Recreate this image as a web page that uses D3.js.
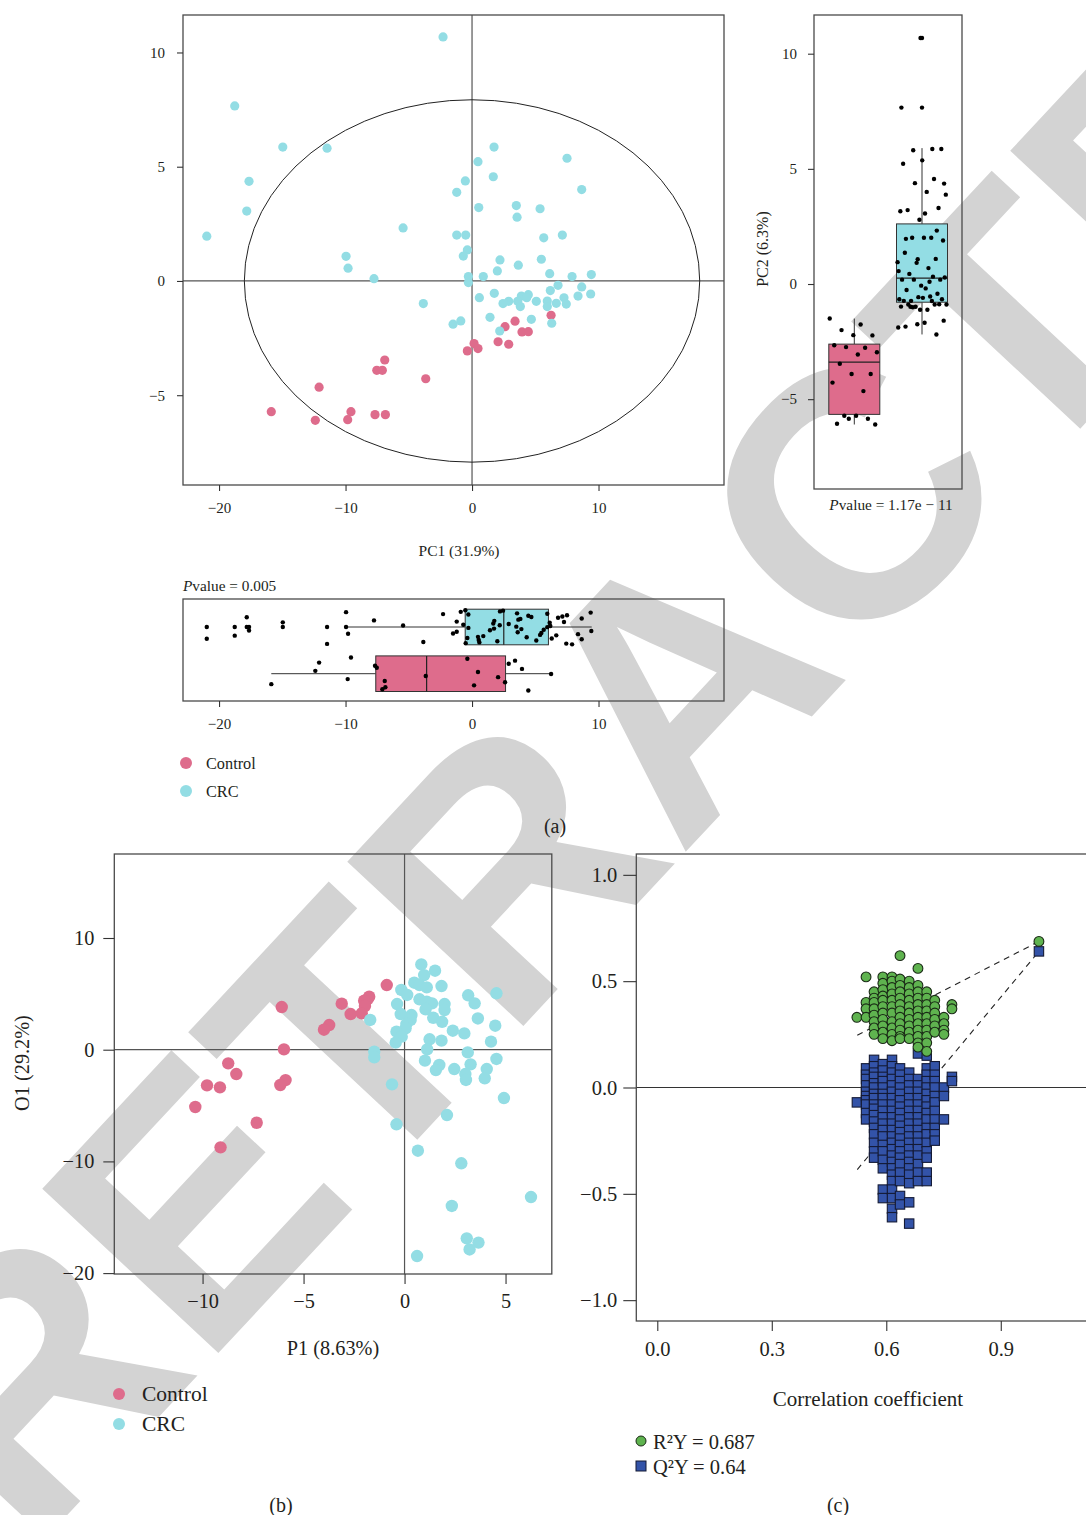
<!DOCTYPE html>
<html><head><meta charset="utf-8">
<script src="https://cdn.jsdelivr.net/npm/d3@7"></script>
<style>
body{margin:0;background:#fff}
svg{display:block}
text{font-family:"Liberation Serif","Times New Roman",serif;fill:#231f20}
</style></head>
<body><svg id="c" width="1086" height="1515"></svg>
<script>
// ---------------- DATA ----------------
const groups = ["Control","CRC"];
const colControl = "#de6c8c", colCRC = "#93dde4";
// (a) PCA scores
const pcaCtrlPC1 = [-6.90,-7.53,-7.09,-3.66,-12.09,-15.87,-12.39,-9.57,-9.83,-7.67,-6.85,6.25,3.40,2.61,3.95,4.45,2.06,2.90,0.16,0.47,-0.37];
const pcaCtrlPC2 = [-3.46,-3.91,-3.91,-4.28,-4.65,-5.72,-6.10,-5.72,-6.07,-5.85,-5.85,-1.50,-1.76,-2.00,-2.23,-2.22,-2.66,-2.77,-2.74,-2.96,-3.06];
const pcaCrcPC1 = [-2.29,-18.76,-14.96,-11.46,-17.63,-17.81,-20.97,-5.45,-9.96,-9.80,-7.75,-3.85,1.74,7.51,0.47,1.68,-0.53,-1.21,8.67,0.53,3.50,3.56,5.38,-1.21,-0.50,5.67,7.14,-0.37,-0.69,2.21,5.48,3.66,2.00,-0.29,-0.29,0.89,6.14,7.91,9.43,6.80,8.67,6.19,9.38,8.38,1.76,0.58,3.90,4.45,4.32,2.90,2.45,3.61,3.82,5.08,5.95,5.95,6.66,7.27,7.45,1.42,4.69,6.30,2.19,-0.89,-1.50];
const pcaCrcPC2 = [10.68,7.66,5.86,5.81,4.36,3.06,1.96,2.32,1.08,0.56,0.10,-0.99,5.86,5.37,5.22,4.56,4.38,3.88,4.00,3.21,3.30,2.79,3.16,2.01,2.01,1.89,2.01,1.36,1.09,0.92,0.95,0.69,0.44,0.19,-0.07,0.19,0.32,0.19,0.28,-0.19,-0.26,-0.42,-0.57,-0.66,-0.54,-0.73,-0.66,-0.60,-0.73,-0.89,-0.99,-0.89,-1.12,-0.89,-0.88,-1.12,-0.98,-0.74,-1.01,-1.59,-1.68,-1.85,-2.19,-1.75,-1.89];
const ellipseRadii = [18.0, 7.93];           // Hotelling T2 ellipse (PC1, PC2 units)
// box stats: [lower whisker, Q1, median, Q3, upper whisker]
const boxPC2Control = [-6.10,-5.66,-3.39,-2.61,-1.50];
const boxPC2CRC     = [-2.19,-0.79,0.26,2.61,5.90];
const boxPC1Control = [-15.87,-7.61,-3.59,2.65,6.25];
const boxPC1CRC     = [-9.88,-0.54,2.51,6.04,9.46];
const pvaluePC2 = "1.17e − 11", pvaluePC1 = "0.005";
const pcaTicksX = [-20,-10,0,10], pcaTicksY = [-5,0,5,10];
// (b) OPLS-DA scores
const oplsCtrlP1 = [-0.88,-1.75,-1.82,-2.00,-1.96,-2.12,-3.11,-2.67,-3.73,-3.99,-6.08,-5.97,-8.73,-8.33,-9.78,-9.14,-10.36,-5.89,-6.15,-7.32,-9.11];
const oplsCtrlO1 = [5.79,4.75,4.53,4.39,3.91,3.26,4.12,3.19,2.21,1.79,3.82,0.03,-1.22,-2.18,-3.19,-3.37,-5.13,-2.72,-3.16,-6.54,-8.74];
const oplsCrcP1 = [0.83,1.51,0.97,0.48,0.74,1.10,-0.16,1.83,0.13,3.15,4.55,0.74,1.10,1.36,1.98,1.98,3.47,-0.37,1.04,-0.19,0.34,0.30,0.09,0.05,1.42,1.86,3.63,4.49,-1.70,2.39,2.96,-0.40,-0.14,-0.44,1.24,1.83,4.28,1.12,3.13,-1.50,-1.50,1.01,4.55,1.72,1.55,3.27,2.46,4.07,3.01,3.04,3.97,-0.62,4.92,2.10,-0.40,0.66,2.81,6.26,2.34,3.08,3.66,3.22,0.62];
const oplsCrcO1 = [7.63,7.07,6.68,6.00,5.79,5.58,5.35,5.70,4.90,4.87,5.05,4.51,4.30,4.15,4.09,3.55,4.15,4.09,3.61,3.19,3.10,2.66,2.30,1.91,2.86,2.50,2.80,2.15,2.66,1.70,1.46,1.61,1.17,0.63,0.93,0.81,0.72,0.03,-0.24,-0.18,-0.68,-0.98,-0.83,-1.37,-1.82,-1.31,-1.73,-1.73,-2.18,-2.71,-2.56,-3.10,-4.33,-5.85,-6.68,-9.04,-10.17,-13.19,-13.99,-16.89,-17.27,-17.88,-18.47];
const oplsTicksX = [-10,-5,0,5], oplsTicksY = [-20,-10,0,10];
// (c) permutation test: correlation coefficient columns, R2 and Q2 values per column
const permX = [0.523,0.547,0.568,0.591,0.615,0.636,0.660,0.683,0.706,0.727,0.751,0.772];
const permR2 = [
 [0.33],
 [0.52,0.40,0.37,0.33],
 [0.45,0.42,0.40,0.37,0.34,0.31,0.28,0.25],
 [0.52,0.49,0.46,0.43,0.41,0.38,0.35,0.32,0.29,0.26,0.23],
 [0.52,0.50,0.47,0.44,0.41,0.38,0.35,0.31,0.28,0.25,0.22],
 [0.62,0.51,0.48,0.45,0.42,0.39,0.36,0.33,0.30,0.27,0.24,0.23],
 [0.50,0.47,0.44,0.41,0.38,0.35,0.32,0.29,0.26,0.23],
 [0.56,0.48,0.45,0.42,0.39,0.36,0.33,0.30,0.27,0.24,0.21,0.19],
 [0.45,0.42,0.39,0.36,0.33,0.30,0.27,0.24,0.21,0.17],
 [0.41,0.38,0.35,0.32,0.29,0.26],
 [0.33,0.30,0.27,0.25],
 [0.39,0.37]
];
const permQ2 = [
 [-0.07],
 [0.09,0.06,0.04,0.01,-0.02,-0.04,-0.06,-0.08,-0.12,-0.15],
 [0.13,0.10,0.07,0.05,0.02,0.00,-0.03,-0.05,-0.08,-0.10,-0.13,-0.16,-0.19,-0.22,-0.26,-0.30,-0.33],
 [0.11,0.08,0.05,0.03,0.00,-0.03,-0.05,-0.08,-0.11,-0.14,-0.17,-0.20,-0.23,-0.27,-0.30,-0.34,-0.38,-0.48,-0.52],
 [0.13,0.10,0.07,0.04,0.01,-0.02,-0.05,-0.08,-0.11,-0.14,-0.17,-0.20,-0.23,-0.26,-0.29,-0.32,-0.35,-0.38,-0.41,-0.44,-0.48,-0.52,-0.57,-0.61],
 [0.09,0.06,0.03,0.00,-0.03,-0.06,-0.09,-0.12,-0.15,-0.18,-0.21,-0.24,-0.27,-0.30,-0.33,-0.36,-0.40,-0.44,-0.51,-0.55],
 [0.07,0.04,0.01,-0.02,-0.05,-0.08,-0.11,-0.14,-0.17,-0.20,-0.23,-0.26,-0.29,-0.32,-0.35,-0.38,-0.41,-0.45,-0.54,-0.64],
 [0.16,0.04,0.01,-0.02,-0.05,-0.08,-0.11,-0.14,-0.17,-0.20,-0.23,-0.26,-0.29,-0.32,-0.36,-0.40,-0.44],
 [0.15,0.09,0.06,0.03,0.00,-0.03,-0.06,-0.09,-0.12,-0.15,-0.19,-0.22,-0.26,-0.30,-0.33,-0.40,-0.44],
 [0.10,0.06,0.03,0.00,-0.04,-0.07,-0.11,-0.15,-0.19,-0.22,-0.25],
 [0.00,-0.04,-0.15],
 [0.05,0.03]
];
const origR2Y = 0.687, origQ2Y = 0.64;
const r2LineStart = [0.524, 0.246], q2LineStart = [0.524, -0.386];
const permTicksX = [0.0,0.3,0.6,0.9], permTicksY = [-1.0,-0.5,0.0,0.5,1.0];
const watermarkText = "RETRACTED";

// ---------------- DRAW ----------------
const svg = d3.select("#c");
svg.append("rect").attr("width",1086).attr("height",1515).attr("fill","#fff");

// watermark (behind the chart)
svg.append("text")
  .attr("transform","translate(30,1555) rotate(-47)")
  .style("font-family","'Liberation Sans',Arial,sans-serif")
  .style("font-weight","bold").style("font-size","350px").style("fill","#d3d3d3")
  .text(watermarkText);

const FR = "#4a4a4a";
function styleAxis(g, fs){
  g.select(".domain").remove();
  g.selectAll(".tick line").attr("stroke","#333").attr("stroke-width",1.1);
  g.selectAll(".tick text").style("font-size",fs+"px").attr("fill","#231f20")
    .style("font-family","'Liberation Serif',serif");
}
const jit = (i,s) => ((i*0.6180339887 + s) % 1) - 0.5;

// ===== (a) PCA scatter =====
const xA = d3.scaleLinear().domain([-22.85,19.92]).range([183,724]);
const yA = d3.scaleLinear().domain([-8.93,11.64]).range([485,15]);
svg.append("line").attr("x1",xA(0)).attr("x2",xA(0)).attr("y1",15).attr("y2",485).attr("stroke","#555").attr("stroke-width",1.2);
svg.append("line").attr("x1",183).attr("x2",724).attr("y1",yA(0)).attr("y2",yA(0)).attr("stroke","#555").attr("stroke-width",1.2);
svg.append("ellipse").attr("cx",xA(0)).attr("cy",yA(0))
  .attr("rx",xA(ellipseRadii[0])-xA(0)).attr("ry",yA(0)-yA(ellipseRadii[1]))
  .attr("fill","none").attr("stroke","#222").attr("stroke-width",1);
svg.append("g").selectAll("circle").data(pcaCtrlPC1).join("circle")
  .attr("cx",d=>xA(d)).attr("cy",(d,i)=>yA(pcaCtrlPC2[i])).attr("r",4.6).attr("fill",colControl);
svg.append("g").selectAll("circle").data(pcaCrcPC1).join("circle")
  .attr("cx",d=>xA(d)).attr("cy",(d,i)=>yA(pcaCrcPC2[i])).attr("r",4.6).attr("fill",colCRC);
svg.append("rect").attr("x",183).attr("y",15).attr("width",541).attr("height",470).attr("fill","none").attr("stroke",FR).attr("stroke-width",1.3);
styleAxis(svg.append("g").attr("transform","translate(0,485)").call(d3.axisBottom(xA).tickValues(pcaTicksX).tickSize(6).tickPadding(11)),15);
styleAxis(svg.append("g").attr("transform","translate(183,0)").call(d3.axisLeft(yA).tickValues(pcaTicksY).tickSize(6).tickPadding(12)),15);
svg.append("text").attr("x",459).attr("y",556).attr("text-anchor","middle").style("font-size","15.5px").text("PC1 (31.9%)");

// ===== (a) right boxplot PC2 =====
const yB = d3.scaleLinear().domain([-8.9,11.68]).range([489,15]);
const xB = d3.scalePoint().domain(groups).range([854.3,922]);
const bw = 51;
function vbox(stats, g, col, vals, seed){
  const cx = xB(g);
  svg.append("line").attr("x1",cx).attr("x2",cx).attr("y1",yB(stats[4])).attr("y2",yB(stats[3])).attr("stroke","#333");
  svg.append("line").attr("x1",cx).attr("x2",cx).attr("y1",yB(stats[1])).attr("y2",yB(stats[0])).attr("stroke","#333");
  svg.append("rect").attr("x",cx-bw/2).attr("width",bw).attr("y",yB(stats[3])).attr("height",yB(stats[1])-yB(stats[3]))
    .attr("fill",col).attr("stroke","#333").attr("stroke-width",1);
  svg.append("line").attr("x1",cx-bw/2).attr("x2",cx+bw/2).attr("y1",yB(stats[2])).attr("y2",yB(stats[2])).attr("stroke","#222").attr("stroke-width",1.2);
  svg.append("g").selectAll("circle").data(vals.filter(v=>v<stats[0]-1e-9||v>stats[4]+1e-9)).join("circle")
    .attr("cx",cx).attr("cy",d=>yB(d)).attr("r",2.2).attr("fill","#000");
  svg.append("g").selectAll("circle").data(vals).join("circle")
    .attr("cx",(d,i)=>cx+jit(i,seed)*bw*0.98).attr("cy",d=>yB(d)).attr("r",2.2).attr("fill","#000");
}
vbox(boxPC2Control,"Control",colControl,pcaCtrlPC2,0.21);
vbox(boxPC2CRC,"CRC",colCRC,pcaCrcPC2,0.47);
svg.append("rect").attr("x",814).attr("y",15).attr("width",148).attr("height",474).attr("fill","none").attr("stroke",FR).attr("stroke-width",1.3);
styleAxis(svg.append("g").attr("transform","translate(814,0)").call(d3.axisLeft(yB).tickValues(pcaTicksY).tickSize(6).tickPadding(11)),15);
svg.append("text").attr("transform","translate(768,249) rotate(-90)").attr("text-anchor","middle").style("font-size","16px").text("PC2 (6.3%)");
const pv1 = svg.append("text").attr("x",891).attr("y",510).attr("text-anchor","middle").style("font-size","15.3px");
pv1.append("tspan").style("font-style","italic").text("P");
pv1.append("tspan").text("value = "+pvaluePC2);

// ===== (a) bottom boxplot PC1 =====
const yC = d3.scalePoint().domain(groups).range([673.7,627]);
const bh = 35.6;
function hbox(stats, g, col, vals, seed){
  const cy = yC(g);
  svg.append("line").attr("y1",cy).attr("y2",cy).attr("x1",xA(stats[0])).attr("x2",xA(stats[1])).attr("stroke","#333");
  svg.append("line").attr("y1",cy).attr("y2",cy).attr("x1",xA(stats[3])).attr("x2",xA(stats[4])).attr("stroke","#333");
  svg.append("rect").attr("y",cy-bh/2).attr("height",bh).attr("x",xA(stats[1])).attr("width",xA(stats[3])-xA(stats[1]))
    .attr("fill",col).attr("stroke","#333").attr("stroke-width",1);
  svg.append("line").attr("y1",cy-bh/2).attr("y2",cy+bh/2).attr("x1",xA(stats[2])).attr("x2",xA(stats[2])).attr("stroke","#222").attr("stroke-width",1.2);
  svg.append("g").selectAll("circle").data(vals.filter(v=>v<stats[0]-1e-9||v>stats[4]+1e-9)).join("circle")
    .attr("cy",cy).attr("cx",d=>xA(d)).attr("r",2.2).attr("fill","#000");
  svg.append("g").selectAll("circle").data(vals).join("circle")
    .attr("cy",(d,i)=>cy+jit(i,seed)*bh*0.98).attr("cx",d=>xA(d)).attr("r",2.2).attr("fill","#000");
}
hbox(boxPC1CRC,"CRC",colCRC,pcaCrcPC1,0.13);
hbox(boxPC1Control,"Control",colControl,pcaCtrlPC1,0.71);
svg.append("rect").attr("x",183).attr("y",599).attr("width",541).attr("height",102).attr("fill","none").attr("stroke",FR).attr("stroke-width",1.3);
styleAxis(svg.append("g").attr("transform","translate(0,701)").call(d3.axisBottom(xA).tickValues(pcaTicksX).tickSize(6).tickPadding(11)),15);
const pv2 = svg.append("text").attr("x",183).attr("y",591).style("font-size","15.3px");
pv2.append("tspan").style("font-style","italic").text("P");
pv2.append("tspan").text("value = "+pvaluePC1);

// legend (a)
[["Control",colControl,763],["CRC",colCRC,791]].forEach(([t,c,y])=>{
  svg.append("circle").attr("cx",186).attr("cy",y).attr("r",6).attr("fill",c);
  svg.append("text").attr("x",206).attr("y",y+5.5).style("font-size","16.3px").text(t);
});
svg.append("text").attr("x",555).attr("y",833).attr("text-anchor","middle").style("font-size","20px").text("(a)");

// ===== (b) OPLS-DA =====
const xD = d3.scaleLinear().domain([-14.37,7.29]).range([114.3,551.8]);
const yD = d3.scaleLinear().domain([-20.08,17.52]).range([1274,854]);
svg.append("line").attr("x1",xD(0)).attr("x2",xD(0)).attr("y1",854).attr("y2",1274).attr("stroke","#555").attr("stroke-width",1.2);
svg.append("line").attr("x1",114.3).attr("x2",551.8).attr("y1",yD(0)).attr("y2",yD(0)).attr("stroke","#555").attr("stroke-width",1.2);
svg.append("g").selectAll("circle").data(oplsCtrlP1).join("circle")
  .attr("cx",d=>xD(d)).attr("cy",(d,i)=>yD(oplsCtrlO1[i])).attr("r",6.2).attr("fill",colControl);
svg.append("g").selectAll("circle").data(oplsCrcP1).join("circle")
  .attr("cx",d=>xD(d)).attr("cy",(d,i)=>yD(oplsCrcO1[i])).attr("r",6.2).attr("fill",colCRC);
svg.append("rect").attr("x",114.3).attr("y",854).attr("width",437.5).attr("height",420).attr("fill","none").attr("stroke",FR).attr("stroke-width",1.3);
styleAxis(svg.append("g").attr("transform","translate(0,1274)").call(d3.axisBottom(xD).tickValues(oplsTicksX).tickSize(10).tickPadding(10)),20.3);
styleAxis(svg.append("g").attr("transform","translate(114.3,0)").call(d3.axisLeft(yD).tickValues(oplsTicksY).tickSize(11).tickPadding(9)),20.3);
svg.append("text").attr("transform","translate(29,1063) rotate(-90)").attr("text-anchor","middle").style("font-size","20.3px").text("O1 (29.2%)");
svg.append("text").attr("x",333).attr("y",1355).attr("text-anchor","middle").style("font-size","20.3px").text("P1 (8.63%)");
[["Control",colControl,1394],["CRC",colCRC,1424]].forEach(([t,c,y])=>{
  svg.append("circle").attr("cx",119).attr("cy",y).attr("r",6).attr("fill",c);
  svg.append("text").attr("x",142).attr("y",y+7).style("font-size","21.5px").text(t);
});
svg.append("text").attr("x",281).attr("y",1512).attr("text-anchor","middle").style("font-size","20px").text("(b)");

// ===== (c) permutation test =====
const xE = d3.scaleLinear().domain([-0.055,1.16]).range([636.3,1100]);
const yE = d3.scaleLinear().domain([-1.098,1.098]).range([1321,854]);
svg.append("line").attr("x1",636.3).attr("x2",1100).attr("y1",yE(0)).attr("y2",yE(0)).attr("stroke","#333").attr("stroke-width",1.2);
svg.append("line").attr("x1",xE(r2LineStart[0])).attr("y1",yE(r2LineStart[1])).attr("x2",xE(1)).attr("y2",yE(origR2Y))
  .attr("stroke","#222").attr("stroke-width",1.1).attr("stroke-dasharray","6,5");
svg.append("line").attr("x1",xE(q2LineStart[0])).attr("y1",yE(q2LineStart[1])).attr("x2",xE(1)).attr("y2",yE(origQ2Y))
  .attr("stroke","#222").attr("stroke-width",1.1).attr("stroke-dasharray","6,5");
const q2pts = permX.flatMap((x,j)=>permQ2[j].map(v=>[x,v]));
const r2pts = permX.flatMap((x,j)=>permR2[j].map(v=>[x,v]));
const SQ = 9.4;
svg.append("g").selectAll("rect").data(q2pts).join("rect")
  .attr("x",d=>xE(d[0])-SQ/2).attr("y",d=>yE(d[1])-SQ/2).attr("width",SQ).attr("height",SQ)
  .attr("fill","#3353a8").attr("stroke","#141a35").attr("stroke-width",1.1);
svg.append("g").selectAll("circle").data(r2pts).join("circle")
  .attr("cx",d=>xE(d[0])).attr("cy",d=>yE(d[1])).attr("r",4.9)
  .attr("fill","#5fb34f").attr("stroke","#1a2a16").attr("stroke-width",1.1);
svg.append("rect").attr("x",xE(1)-SQ/2).attr("y",yE(origQ2Y)-SQ/2).attr("width",SQ).attr("height",SQ)
  .attr("fill","#3353a8").attr("stroke","#141a35").attr("stroke-width",1.1);
svg.append("circle").attr("cx",xE(1)).attr("cy",yE(origR2Y)).attr("r",4.9)
  .attr("fill","#5fb34f").attr("stroke","#1a2a16").attr("stroke-width",1.1);
svg.append("rect").attr("x",636.3).attr("y",854).attr("width",464).attr("height",467).attr("fill","none").attr("stroke",FR).attr("stroke-width",1.3);
styleAxis(svg.append("g").attr("transform","translate(636.3,0)").call(d3.axisLeft(yE).tickValues(permTicksY).tickFormat(d3.format(".1f")).tickSize(13).tickPadding(6)),20.5);
styleAxis(svg.append("g").attr("transform","translate(0,1321)").call(d3.axisBottom(xE).tickValues(permTicksX).tickFormat(d3.format(".1f")).tickSize(10).tickPadding(10)),20.5);
svg.append("text").attr("x",868).attr("y",1406).attr("text-anchor","middle").style("font-size","21px").text("Correlation coefficient");
svg.append("circle").attr("cx",641).attr("cy",1441).attr("r",5).attr("fill","#5fb34f").attr("stroke","#1a2a16");
svg.append("rect").attr("x",636).attr("y",1461).attr("width",10).attr("height",10).attr("fill","#3353a8").attr("stroke","#141a35");
svg.append("text").attr("x",653).attr("y",1448.5).style("font-size","20.5px").text("R²Y = "+origR2Y);
svg.append("text").attr("x",653).attr("y",1473.5).style("font-size","20.5px").text("Q²Y = "+origQ2Y);
svg.append("text").attr("x",838).attr("y",1512).attr("text-anchor","middle").style("font-size","20px").text("(c)");
</script></body></html>
